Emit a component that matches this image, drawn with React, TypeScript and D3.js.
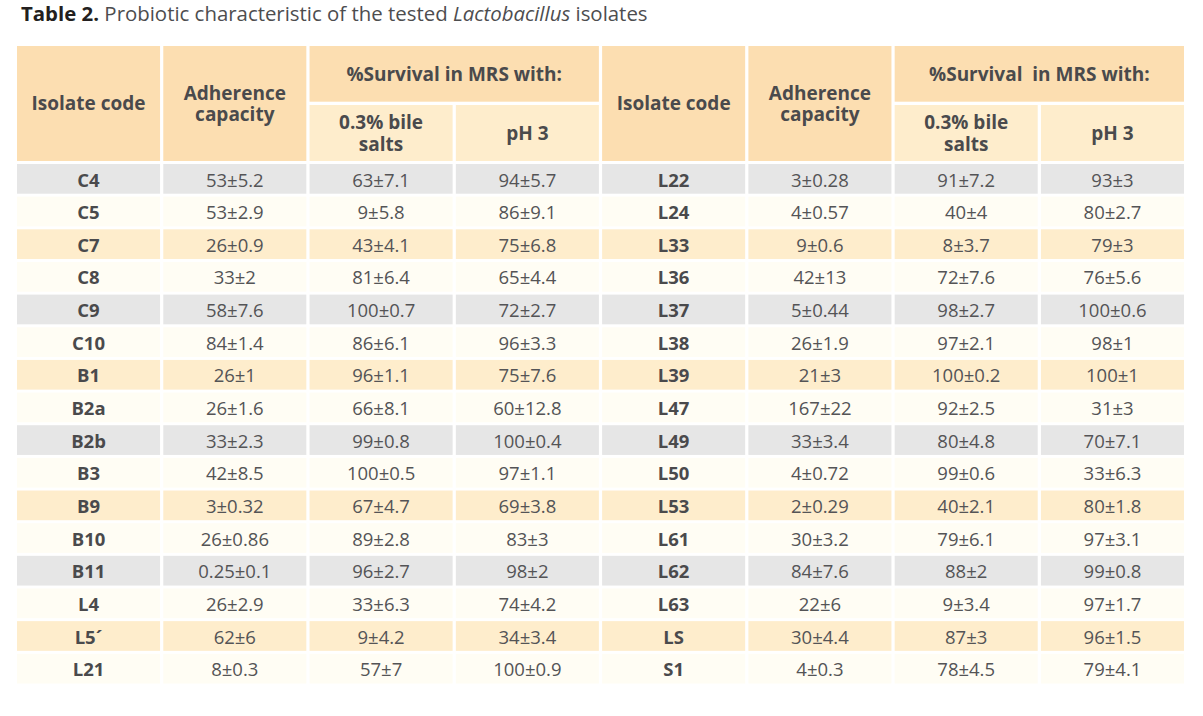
import React from "react";
import * as d3 from "d3";

// ---- data ----
const leftCodes = ["C4", "C5", "C7", "C8", "C9", "C10", "B1", "B2a", "B2b", "B3", "B9", "B10", "B11", "L4", "L5\u00B4", "L21"];
const leftAdherence = ["53±5.2", "53±2.9", "26±0.9", "33±2", "58±7.6", "84±1.4", "26±1", "26±1.6", "33±2.3", "42±8.5", "3±0.32", "26±0.86", "0.25±0.1", "26±2.9", "62±6", "8±0.3"];
const leftBile = ["63±7.1", "9±5.8", "43±4.1", "81±6.4", "100±0.7", "86±6.1", "96±1.1", "66±8.1", "99±0.8", "100±0.5", "67±4.7", "89±2.8", "96±2.7", "33±6.3", "9±4.2", "57±7"];
const leftPH3 = ["94±5.7", "86±9.1", "75±6.8", "65±4.4", "72±2.7", "96±3.3", "75±7.6", "60±12.8", "100±0.4", "97±1.1", "69±3.8", "83±3", "98±2", "74±4.2", "34±3.4", "100±0.9"];

const rightCodes = ["L22", "L24", "L33", "L36", "L37", "L38", "L39", "L47", "L49", "L50", "L53", "L61", "L62", "L63", "LS", "S1"];
const rightAdherence = ["3±0.28", "4±0.57", "9±0.6", "42±13", "5±0.44", "26±1.9", "21±3", "167±22", "33±3.4", "4±0.72", "2±0.29", "30±3.2", "84±7.6", "22±6", "30±4.4", "4±0.3"];
const rightBile = ["91±7.2", "40±4", "8±3.7", "72±7.6", "98±2.7", "97±2.1", "100±0.2", "92±2.5", "80±4.8", "99±0.6", "40±2.1", "79±6.1", "88±2", "9±3.4", "87±3", "78±4.5"];
const rightPH3 = ["93±3", "80±2.7", "79±3", "76±5.6", "100±0.6", "98±1", "100±1", "31±3", "70±7.1", "33±6.3", "80±1.8", "97±3.1", "99±0.8", "97±1.7", "96±1.5", "79±4.1"];

const groupHeaders = ["%Survival in MRS with:", "%Survival  in MRS with:"];
const subHeaders = [["0.3% bile", "salts"], ["pH 3"]];
const mainHeaders = [["Isolate code"], ["Adherence", "capacity"]];

// ---- styles ----
const W = 1203;
const H = 716;
const FONT = "'Open Sans', 'Noto Sans', sans-serif";
const HEADER_BG = "#FCDEB1";
const SUB_BG = "#FEEDCC";
const ROW_BG = ["#E6E6E6", "#FFFDF4", "#FEEDCC", "#FFFDF4"];
const HEAD_COLOR = "#4a4a4c";
const CELL_COLOR = "#545456";

export default function App() {
  const nRows = leftCodes.length;
  const x = d3.scaleBand<number>().domain(d3.range(8)).range([17, 1184]).paddingInner(0.022);
  const y = d3.scaleBand<number>().domain(d3.range(nRows)).range([164, 683.5]).paddingInner(0.09);

  const headTop = 46;
  const headBottom = 161;
  const groupBottom = 101.7;
  const subTop = 105;

  const halves = [
    { codes: leftCodes, cols: [leftAdherence, leftBile, leftPH3] },
    { codes: rightCodes, cols: [rightAdherence, rightBile, rightPH3] },
  ];

  const bw = x.bandwidth();
  const bh = y.bandwidth();
  const LINE = 21.5;

  return (
    <svg width={W} height={H} style={{ position: "absolute", left: 0, top: 0, background: "#fff" }} fontFamily={FONT}>
      {/* title */}
      <text x={21} y={21} fontSize={20.4} fill="#4d4d4f">
        <tspan fontWeight={700} fill="#231f20">Table 2.</tspan>
        <tspan> Probiotic characteristic of the tested </tspan>
        <tspan fontStyle="italic">Lactobacillus</tspan>
        <tspan> isolates</tspan>
      </text>

      {halves.map((half, hi) => {
        const c0 = hi * 4;
        const gx0 = x(c0 + 2)!;
        const gx1 = x(c0 + 3)! + bw;
        return (
          <g key={hi}>
            {/* main header cells */}
            {mainHeaders.map((lines, mi) => {
              const cx = x(c0 + mi)! + bw / 2;
              const cy = (headTop + headBottom) / 2;
              return (
                <g key={mi}>
                  <rect x={x(c0 + mi)} y={headTop} width={bw} height={headBottom - headTop} fill={HEADER_BG} />
                  {lines.map((ln, li) => (
                    <text key={li} x={cx} y={cy + (li - (lines.length - 1) / 2) * LINE} dy="0.36em" textAnchor="middle" fontSize={19} fontWeight={700} fill={HEAD_COLOR}>
                      {ln}
                    </text>
                  ))}
                </g>
              );
            })}
            {/* group header */}
            <rect x={gx0} y={headTop} width={gx1 - gx0} height={groupBottom - headTop} fill={HEADER_BG} />
            <text x={(gx0 + gx1) / 2} y={(headTop + groupBottom) / 2 + 0.5} dy="0.36em" textAnchor="middle" fontSize={19} fontWeight={700} fill={HEAD_COLOR} style={{ whiteSpace: "pre" }}>
              {groupHeaders[hi]}
            </text>
            {/* sub headers */}
            {subHeaders.map((lines, si) => {
              const cx = x(c0 + 2 + si)! + bw / 2;
              const cy = (subTop + headBottom) / 2;
              return (
                <g key={si}>
                  <rect x={x(c0 + 2 + si)} y={subTop} width={bw} height={headBottom - subTop} fill={SUB_BG} />
                  {lines.map((ln, li) => (
                    <text key={li} x={cx} y={cy + (li - (lines.length - 1) / 2) * LINE} dy="0.36em" textAnchor="middle" fontSize={19} fontWeight={700} fill={HEAD_COLOR}>
                      {ln}
                    </text>
                  ))}
                </g>
              );
            })}
            {/* body rows */}
            {half.codes.map((code, ri) => {
              const ry = y(ri)!;
              const values = [code, ...half.cols.map((col) => col[ri])];
              return (
                <g key={ri}>
                  {values.map((v, ci) => (
                    <g key={ci}>
                      <rect x={x(c0 + ci)} y={ry} width={bw} height={bh} fill={ROW_BG[ri % 4]} />
                      <text
                        x={x(c0 + ci)! + bw / 2}
                        y={ry + bh / 2 + 1}
                        dy="0.36em"
                        textAnchor="middle"
                        fontSize={18.5}
                        fontWeight={ci === 0 ? 700 : 400}
                        fill={ci === 0 ? HEAD_COLOR : CELL_COLOR}
                      >
                        {v}
                      </text>
                    </g>
                  ))}
                </g>
              );
            })}
          </g>
        );
      })}
    </svg>
  );
}
